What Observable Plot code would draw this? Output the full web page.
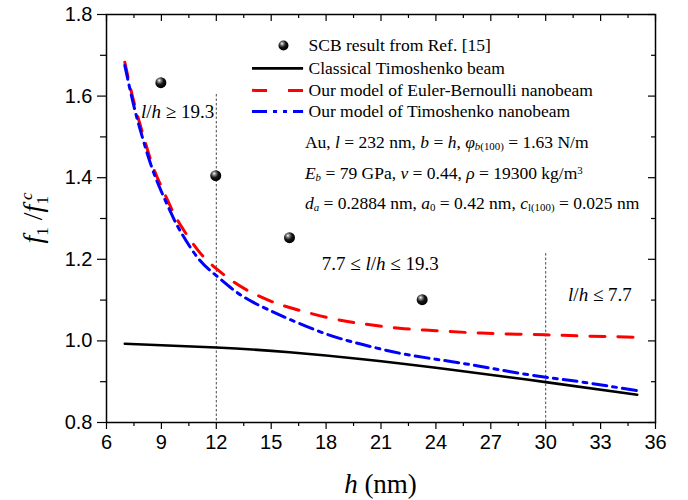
<!DOCTYPE html>
<html><head><meta charset="utf-8">
<script src="https://cdn.jsdelivr.net/npm/d3@7"></script>
<script src="https://cdn.jsdelivr.net/npm/@observablehq/plot@0.6"></script>
<style>body{margin:0;background:#fff} #chart svg{display:block}</style>
</head><body><div id="chart"></div>
<script>
// ---- data ----
const hCurve = [7,7.5,8,8.5,9,9.5,10,11,12,13,14,15,16,18,20,22,24,26,28,30,32,35];
const eulerNano = [1.683,1.585,1.505,1.432,1.378,1.329,1.287,1.222,1.177,1.143,1.117,1.097,1.082,1.058,1.042,1.031,1.025,1.020,1.017,1.015,1.012,1.009];
const timoNano  = [1.675,1.575,1.493,1.422,1.366,1.316,1.272,1.203,1.160,1.123,1.095,1.073,1.053,1.017,0.991,0.970,0.955,0.941,0.925,0.911,0.899,0.878];
const hClassic = [7,12,16,20,24,28,30,35];
const timoClassic = [0.993,0.984,0.972,0.955,0.934,0.911,0.899,0.868];
const hSCB = [8.97,11.97,16.0,23.25];
const scbValues = [1.633,1.405,1.253,1.101];
const xMajor = [6,9,12,15,18,21,24,27,30,33,36];
const xMinor = [7.5,10.5,13.5,16.5,19.5,22.5,25.5,28.5,31.5,34.5];
const yMajor = [0.8,1.0,1.2,1.4,1.6,1.8];
const yMinor = [0.9,1.1,1.3,1.5,1.7];
const regionBounds = [{h:12, top:1.604},{h:30, top:1.214}];
const legendLabels = ["SCB result from Ref. [15]","Classical Timoshenko beam","Our model of Euler-Bernoulli nanobeam","Our model of Timoshenko nanobeam"];

const classic = hClassic.map((h,i)=>({h, v:timoClassic[i]}));
const euler = hCurve.map((h,i)=>({h, v:eulerNano[i]}));
const timo = hCurve.map((h,i)=>({h, v:timoNano[i]}));
const scb = hSCB.map((h,i)=>({h, v:scbValues[i]}));

const W=688, H=500, mL=106, mR=33, mT=14, mB=78;
const pW = W-mL-mR, pH = H-mT-mB;
const serif = "'Liberation Serif','Times New Roman',serif";

// legend positions (data coords)
const legX1 = 13.98, legX2 = 16.77, legTextX = 17.04, legDotX = 15.67;
const legY = [1.724,1.668,1.614,1.562];

const plot = Plot.plot({
  width: W, height: H,
  marginLeft: mL, marginRight: mR, marginTop: mT, marginBottom: mB,
  style: {fontFamily: "'Liberation Sans',Arial,sans-serif", fontSize: "20px", background: "white", color: "black", overflow: "visible"},
  x: {domain: [6,36], label: null},
  y: {domain: [0.8,1.8], label: null},
  marks: [
    Plot.ruleX(regionBounds, {x:"h", y1:"top", y2:0.8, stroke:"#333", strokeWidth:0.9, strokeDasharray:"2.5,2"}),
    Plot.line(classic, {x:"h", y:"v", stroke:"black", strokeWidth:2.6, curve:"natural"}),
    Plot.line(euler, {x:"h", y:"v", stroke:"#ff0000", strokeWidth:3, strokeDasharray:"15,13", curve:"natural"}),
    Plot.line(timo, {x:"h", y:"v", stroke:"#0000ff", strokeWidth:3, strokeDasharray:"14,6,4,6", curve:"natural"}),
    Plot.dot(scb, {x:"h", y:"v", r:5.5, fill:"black", stroke:"none"}),
    // legend
    Plot.dot([legY[0]], {x: legDotX, y: d=>d, r:5, fill:"black", stroke:"none"}),
    Plot.ruleY([legY[1]], {x1: legX1, x2: legX2, stroke:"black", strokeWidth:2.6}),
    Plot.ruleY([legY[2]], {x1: legX1, x2: legX2, stroke:"#ff0000", strokeWidth:3, strokeDasharray:"15,21"}),
    Plot.ruleY([legY[3]], {x1: legX1, x2: legX2, stroke:"#0000ff", strokeWidth:3, strokeDasharray:"15,6,4,6,4,6"}),
    Plot.text(legendLabels, {x: legTextX, y: (d,i)=>legY[i], text: d=>d, textAnchor:"start", fontFamily: serif, fontSize: 17.5, fill:"black"}),
    // frame and axes
    Plot.frame({stroke:"black", strokeWidth:1.5}),
    Plot.axisX({ticks: xMajor, anchor:"bottom", tickSize:7, tickPadding:5, label:null, tickFormat: d=>String(d), strokeWidth:1.2}),
    Plot.axisX({ticks: xMinor, anchor:"bottom", tickSize:4, label:null, tickFormat: ()=>"", strokeWidth:1.2}),
    Plot.axisY({ticks: yMajor, anchor:"left", tickSize:9, tickPadding:5, label:null, tickFormat: d3.format(".1f"), strokeWidth:1.2}),
    Plot.axisY({ticks: yMinor, anchor:"left", tickSize:6, label:null, tickFormat: ()=>"", strokeWidth:1.2}),
    Plot.ruleX(xMajor, {insetBottom: pH-7, stroke:"black", strokeWidth:1.2}),
    Plot.ruleX(xMinor, {insetBottom: pH-4, stroke:"black", strokeWidth:1.2}),
    Plot.ruleY(yMajor, {insetLeft: pW-7, stroke:"black", strokeWidth:1.2}),
    Plot.ruleY(yMinor, {insetLeft: pW-4, stroke:"black", strokeWidth:1.2})
  ]
});

const svg = d3.select(plot);
// sphere gradient
const defs = svg.insert("defs", ":first-child");
const g = defs.append("radialGradient").attr("id","sphere").attr("cx","40%").attr("cy","35%").attr("r","65%").attr("fx","35%").attr("fy","30%");
g.append("stop").attr("offset","0%").attr("stop-color","#ffffff");
g.append("stop").attr("offset","22%").attr("stop-color","#8a8a8a");
g.append("stop").attr("offset","55%").attr("stop-color","#151515");
g.append("stop").attr("offset","100%").attr("stop-color","#000000");
svg.selectAll("circle").attr("fill","url(#sphere)");

const xs = plot.scale("x"), ys = plot.scale("y");
function rich(segs, x, y, size, anchor="start") {
  const t = svg.append("text").attr("x", xs.apply(x)).attr("y", ys.apply(y))
    .attr("dy","0.35em").attr("text-anchor", anchor).attr("fill","black")
    .style("font-family", serif).style("font-size", size+"px");
  for (const s of segs) {
    const sp = t.append("tspan").text(s.t);
    if (s.i) sp.style("font-style","italic");
    if (s.sub) sp.style("font-size", (size*0.62)+"px").attr("baseline-shift", "-22%");
    if (s.sup) sp.style("font-size", (size*0.62)+"px").attr("baseline-shift", "45%");
  }
  return t;
}
// parameter block
rich([{t:"Au, "},{t:"l",i:1},{t:" = 232 nm, "},{t:"b",i:1},{t:" = "},{t:"h",i:1},{t:", "},{t:"φ",i:1},{t:"b",i:1,sub:1},{t:"(100)",sub:1},{t:" = 1.63 N/m"}], 16.87, 1.486, 17.5);
rich([{t:"E",i:1},{t:"b",i:1,sub:1},{t:" = 79 GPa, "},{t:"ν",i:1},{t:" = 0.44, "},{t:"ρ",i:1},{t:" = 19300 kg/m"},{t:"3",sup:1}], 16.87, 1.410, 17.5);
rich([{t:"d",i:1},{t:"a",i:1,sub:1},{t:" = 0.2884 nm, "},{t:"a",i:1},{t:"0",sub:1},{t:" = 0.42 nm, "},{t:"c",i:1},{t:"l(100)",sub:1},{t:" = 0.025 nm"}], 16.87, 1.337, 17.5);
// region labels
rich([{t:"l",i:1},{t:"/"},{t:"h",i:1},{t:" ≥ 19.3"}], 7.91, 1.561, 19);
rich([{t:"7.7 ≤ "},{t:"l",i:1},{t:"/"},{t:"h",i:1},{t:" ≤ 19.3"}], 17.79, 1.190, 19);
rich([{t:"l",i:1},{t:"/"},{t:"h",i:1},{t:" ≤ 7.7"}], 31.25, 1.114, 19);

// axis titles
const xl = svg.append("text").attr("x", mL + pW/2).attr("y", H-7).attr("text-anchor","middle")
  .style("font-family", serif).style("font-size", "27px").attr("fill","black");
xl.append("tspan").style("font-style","italic").text("h");
xl.append("tspan").text(" (nm)");
const yl = svg.append("text").attr("transform", `translate(42,${mT+pH/2}) rotate(-90)`).attr("text-anchor","middle")
  .style("font-family", serif).style("font-size", "28px").attr("fill","black");
yl.append("tspan").style("font-style","italic").text("f");
yl.append("tspan").style("font-size","17px").attr("dy",6).text("1");
yl.append("tspan").attr("dy",-6).text(" /");
yl.append("tspan").style("font-style","italic").text("f");
yl.append("tspan").style("font-size","17px").attr("dy",6).text("1");
yl.append("tspan").style("font-size","17px").style("font-style","italic").attr("dx",-4).attr("dy",-16).text("c");

document.getElementById("chart").append(plot);
</script>
</body></html>
